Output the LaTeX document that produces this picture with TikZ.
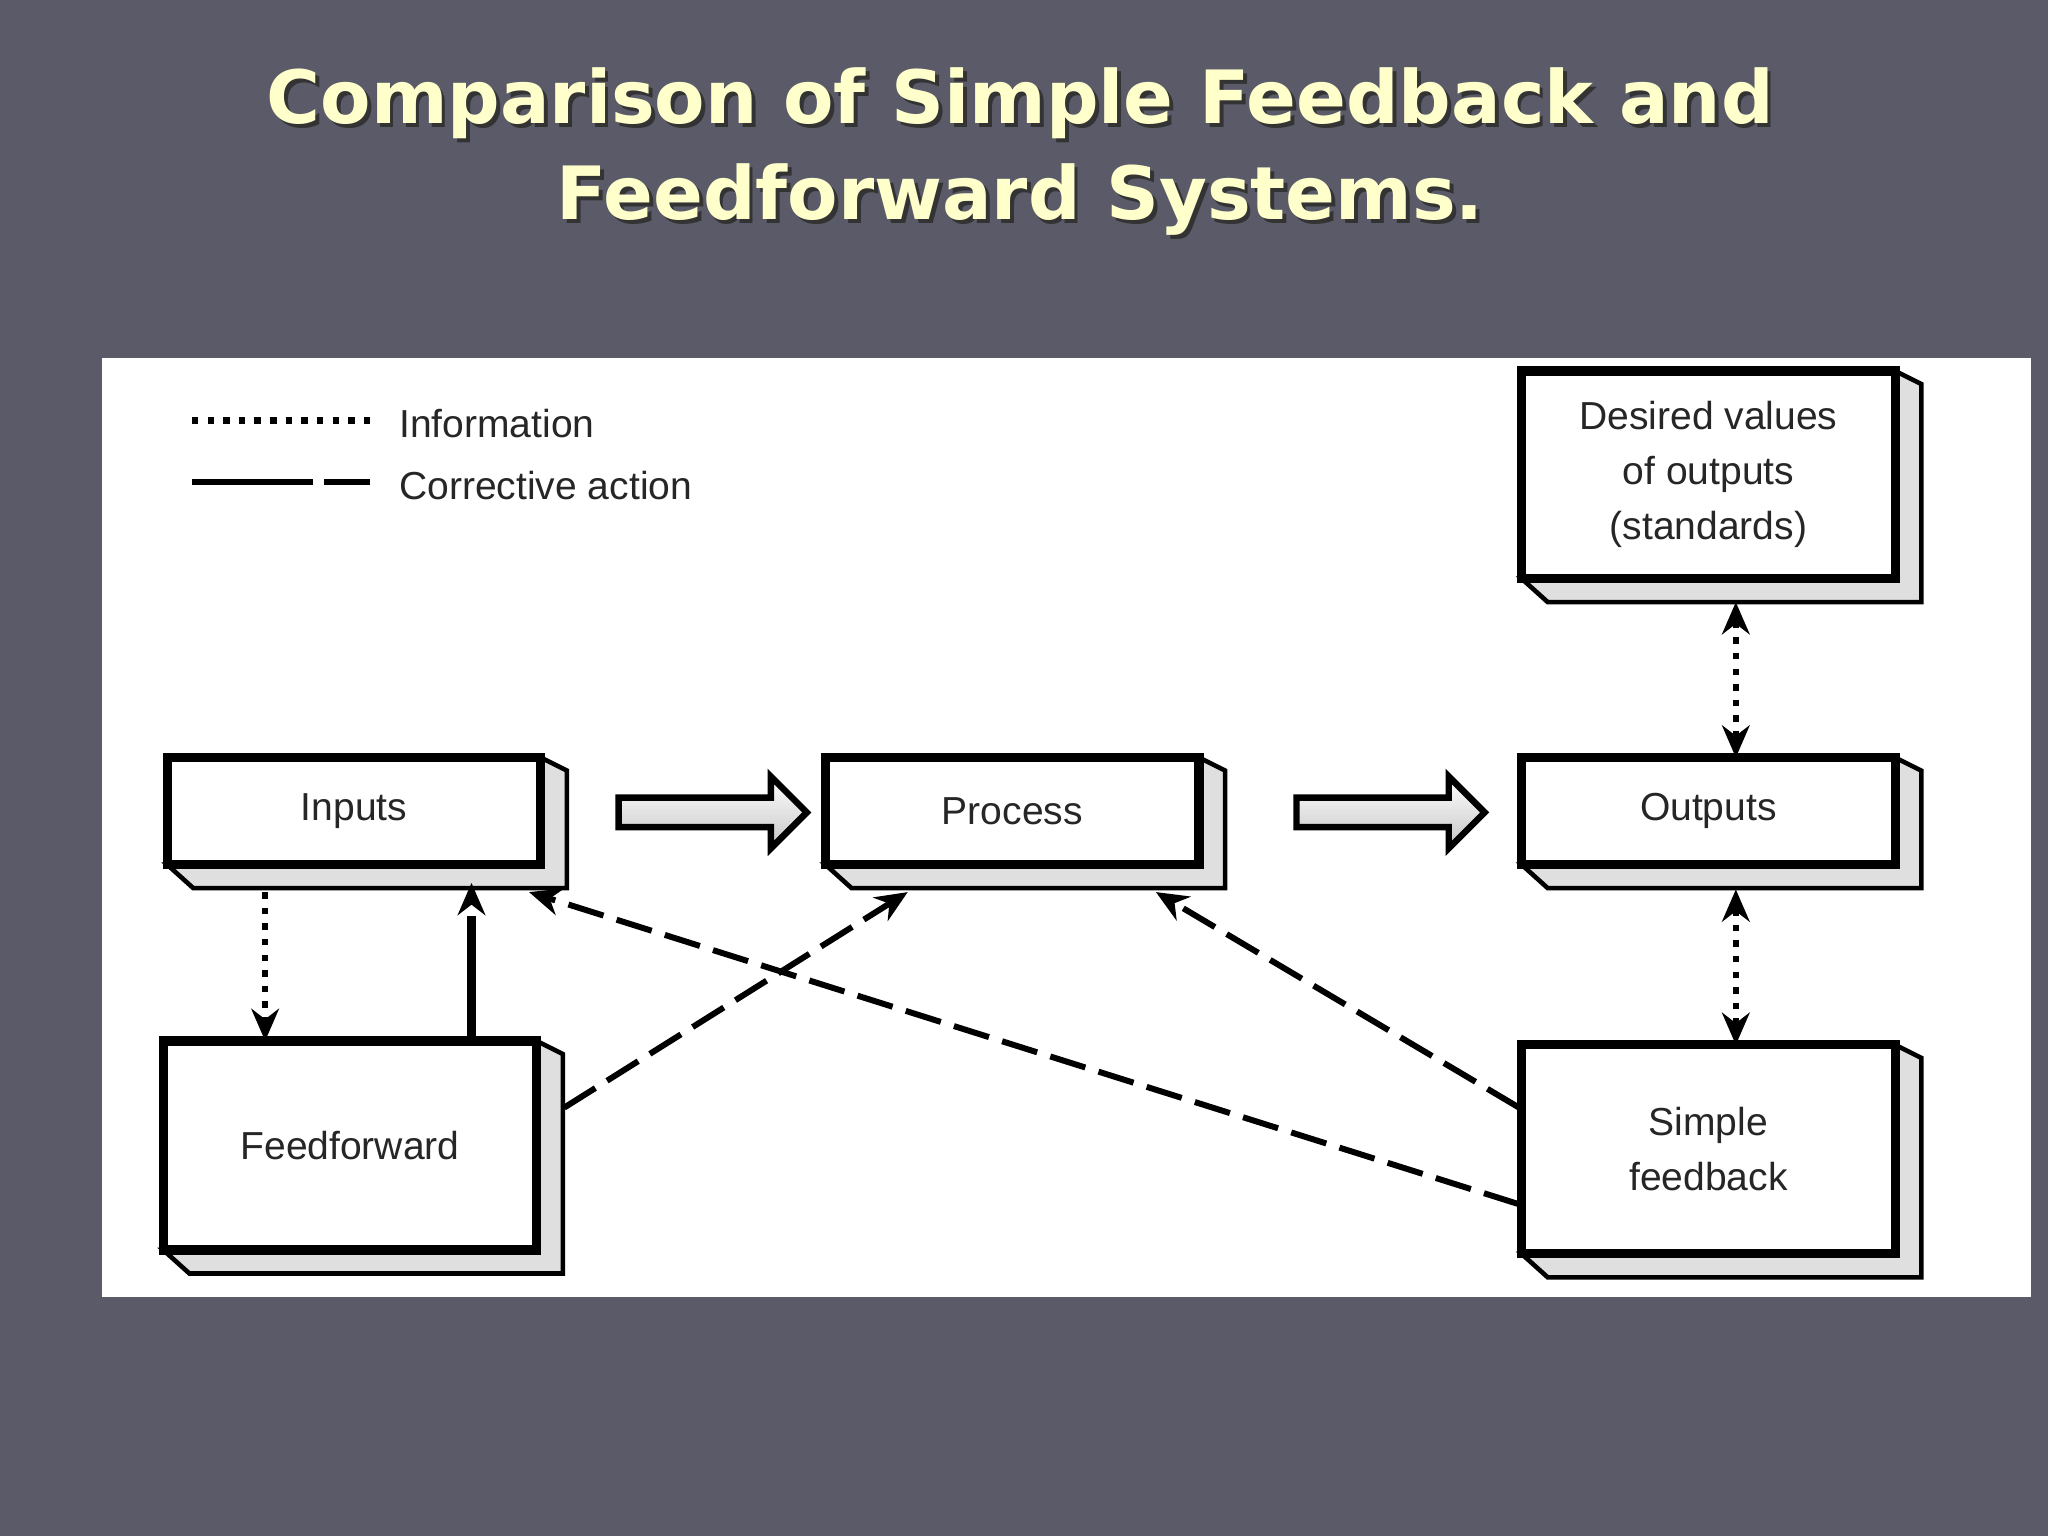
\documentclass[tikz,border=0pt]{standalone}
\usepackage{fontspec}
\setmainfont{Liberation Sans}
\newfontfamily\titlefont{DejaVu Sans}
\usetikzlibrary{arrows.meta,shapes.arrows,calc}
\definecolor{bg}{HTML}{5A5A68}
\definecolor{ttl}{HTML}{FFFFCC}
\newcommand{\shbox}[6]{%
  \filldraw[fill=gray!25,draw=black,line width=1pt] (#2,#5) -- (#4,#5) -- (#4,#3) -- ($(#4,#3)+(20,10)$) -- ($(#4,#5)+(20,18)$) -- ($(#2,#5)+(20,18)$) -- cycle;
  \pgfmathsetmacro\bw{(#4-#2)*0.01}\pgfmathsetmacro\bh{(#5-#3)*0.01}
  \node[box,minimum width=\bw cm,minimum height=\bh cm] (#1) at ({(#2+#4)/2},{(#3+#5)/2}) {#6};}
\begin{document}
\begin{tikzpicture}[x=0.01cm,y=-0.01cm,
  box/.style={draw=black,line width=2pt,fill=white,inner sep=0pt,align=center,font=\fontsize{8.5}{12}\selectfont\color{black!85}},
  lbl/.style={font=\fontsize{8.5}{12}\selectfont\color{black!85},anchor=west,inner sep=0pt},
  info/.style={line width=1.4pt,dotted},
  corr/.style={line width=1.3pt,dash pattern=on 8pt off 3pt},
  tip/.style={-{Stealth[length=7pt,width=6pt]}},
  tips/.style={{Stealth[length=7pt,width=6pt]}-{Stealth[length=7pt,width=6pt]}},
  fat/.style={single arrow,draw=black,line width=1.4pt,top color=white,bottom color=gray!45,minimum height=1.44cm,minimum width=0.55cm,single arrow head extend=1pt,single arrow head indent=0pt,inner sep=0pt}]
\fill[bg] (0,0) rectangle (1568,1176);
\useasboundingbox (0,0) rectangle (1568,1176);
\node[font=\titlefont\bfseries\fontsize{16}{21}\selectfont,text=black!80,align=center] at (784.0,119.0) {Comparison of Simple Feedback and\\Feedforward Systems.};
\node (title)[font=\titlefont\bfseries\fontsize{16}{21}\selectfont,text=ttl,align=center] at (781,116) {Comparison of Simple Feedback and\\Feedforward Systems.};
\fill[white] (78,274) rectangle (1555,993);
% legend
\coordinate (l1a) at (147,322); \coordinate (l1b) at (287,322);
\draw[info] (l1a) -- (l1b);
\node[lbl] (linfo) at (305,324) {Information};
\coordinate (l2a) at (147,369); \coordinate (l2b) at (240,369);
\coordinate (l2c) at (248,369); \coordinate (l2d) at (290,369);
\draw[line width=1.3pt] (l2a) -- (l2b);
\draw[line width=1.3pt,dash pattern=on 10pt off 4pt] (l2c) -- (l2d);
\node[lbl] (lcorr) at (305,372) {Corrective action};
% boxes
\shbox{inp}{128}{580}{414}{662}{Inputs}
\shbox{proc}{632}{580}{918}{662}{Process}
\shbox{out}{1165}{580}{1451}{662}{Outputs}
\shbox{des}{1165}{284}{1451}{443}{Desired values\\of outputs\\(standards)}
\shbox{ff}{125}{797}{411}{957}{Feedforward}
\shbox{fb}{1165}{800}{1451}{960}{Simple\\feedback}
% fat arrows
\node[fat] (fa1) at (540,622) {};
\node[fat] (fa2) at (1059,622) {};
% connectors
\coordinate (a1) at (203,683); \coordinate (a2) at (203,797);
\draw[info,tip] (a1) -- (a2);
\coordinate (b1) at (361,793); \coordinate (b2) at (361,676);
\draw[line width=2pt,dash pattern=on 26pt off 3pt,tip] (b1) -- (b2);
\coordinate (c1) at (432,848); \coordinate (c2) at (695,683);
\draw[corr,tip] (c1) -- (c2);
\coordinate (d1) at (1163,848); \coordinate (d2) at (885,683);
\draw[corr,tip] (d1) -- (d2);
\coordinate (e1) at (1163,922); \coordinate (e2) at (405,683);
\draw[corr,tip] (e1) -- (e2);
\coordinate (f1) at (1329,461); \coordinate (f2) at (1329,580);
\draw[info,tips] (f1) -- (f2);
\coordinate (g1) at (1329,681); \coordinate (g2) at (1329,800);
\draw[info,tips] (g1) -- (g2);
\end{tikzpicture}
\end{document}
